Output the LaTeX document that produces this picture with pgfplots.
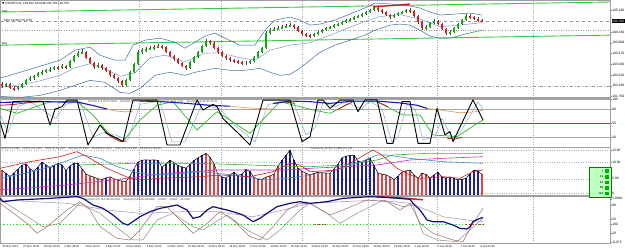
\documentclass[border=0pt]{standalone}
\usepackage{fontspec}
\setmainfont{Liberation Sans}
\newfontfamily\symfont{DejaVu Sans}
\usepackage{pgfplots}
\usepackage{pgfplotstable}
\pgfplotsset{compat=1.18}

\definecolor{cup}{RGB}{20,170,20}
\definecolor{cdn}{RGB}{225,30,30}
\definecolor{bband}{RGB}{60,110,170}
\definecolor{tgreen}{RGB}{60,200,60}
\definecolor{stblue}{RGB}{25,25,190}
\definecolor{stlight}{RGB}{130,175,205}
\definecolor{stgreen}{RGB}{40,185,40}
\definecolor{storange}{RGB}{230,150,70}
\definecolor{stred}{RGB}{205,30,30}
\definecolor{lvlred}{RGB}{190,50,50}
\definecolor{hblue}{RGB}{30,30,150}
\definecolor{hred}{RGB}{220,70,70}
\definecolor{hcyan}{RGB}{60,140,200}
\definecolor{hmag}{RGB}{200,40,200}
\definecolor{navy4}{RGB}{15,15,125}
\definecolor{brown4}{RGB}{160,110,90}
\definecolor{gray4}{RGB}{140,140,140}
\definecolor{purp4}{RGB}{175,135,195}
\definecolor{dgreen}{RGB}{40,220,40}

\pgfplotstableread{
x o c h l
2 102.24 102.16 102.32 102.08
6 102.16 102.24 102.28 102.12
10 102.24 102.08 102.28 102.04
14 102.08 102.04 102.16 101.96
18 102.04 102.12 102.16 102.00
22 102.12 102.24 102.28 102.08
26 102.24 102.40 102.44 102.20
30 102.40 102.48 102.56 102.36
34 102.48 102.56 102.60 102.40
38 102.56 102.68 102.72 102.52
42 102.68 102.72 102.80 102.60
46 102.72 102.80 102.84 102.68
50 102.80 102.84 102.92 102.72
54 102.84 102.92 102.96 102.80
58 102.92 102.88 102.96 102.80
62 102.88 102.96 103.04 102.84
66 102.96 102.92 103.00 102.84
70 102.92 103.16 103.20 102.88
74 103.16 103.36 103.40 103.12
78 103.36 103.48 103.56 103.32
82 103.48 103.52 103.64 103.44
86 103.52 103.28 103.56 103.24
90 103.28 103.08 103.32 103.04
94 103.08 102.92 103.12 102.84
98 102.92 103.00 103.08 102.88
102 103.00 102.88 103.04 102.80
106 102.88 102.76 102.92 102.72
110 102.76 102.60 102.80 102.52
114 102.60 102.48 102.64 102.44
118 102.48 102.36 102.52 102.28
122 102.36 102.20 102.40 102.12
126 102.20 102.40 102.44 102.16
130 102.40 102.72 102.76 102.36
134 102.72 103.04 103.08 102.68
138 103.04 103.52 103.60 103.00
142 103.52 103.60 103.68 103.44
146 103.60 103.64 103.72 103.52
150 103.64 103.68 103.76 103.60
154 103.68 103.72 103.80 103.60
158 103.72 103.76 103.84 103.68
162 103.76 103.72 103.80 103.64
166 103.72 103.52 103.76 103.48
170 103.52 103.36 103.56 103.32
174 103.36 103.24 103.40 103.16
178 103.24 103.08 103.28 103.04
182 103.08 102.96 103.12 102.92
186 102.96 102.88 103.00 102.80
190 102.88 103.12 103.16 102.84
194 103.12 103.32 103.36 103.08
198 103.32 103.52 103.56 103.28
202 103.52 103.76 103.80 103.48
206 103.76 103.96 104.04 103.72
210 103.96 103.88 104.00 103.80
214 103.88 103.68 103.92 103.64
218 103.68 103.52 103.72 103.44
222 103.52 103.36 103.56 103.32
226 103.36 103.28 103.40 103.20
230 103.28 103.20 103.32 103.12
234 103.20 103.16 103.24 103.08
238 103.16 103.12 103.20 103.04
242 103.12 103.08 103.16 103.00
246 103.08 103.08 103.16 103.00
250 103.08 103.16 103.20 103.04
254 103.16 103.32 103.36 103.12
258 103.32 103.52 103.56 103.28
262 103.52 103.68 103.72 103.48
266 103.68 104.28 104.36 103.64
270 104.28 104.40 104.48 104.24
274 104.40 104.44 104.52 104.36
278 104.44 104.48 104.56 104.40
282 104.48 104.52 104.60 104.44
286 104.52 104.56 104.64 104.48
290 104.56 104.60 104.68 104.52
294 104.60 104.52 104.64 104.44
298 104.52 104.36 104.56 104.32
302 104.36 104.24 104.40 104.16
306 104.24 104.20 104.28 104.12
310 104.20 104.16 104.24 104.08
314 104.16 104.24 104.28 104.12
318 104.24 104.32 104.36 104.20
322 104.32 104.40 104.44 104.28
326 104.40 104.48 104.52 104.36
330 104.48 104.52 104.56 104.44
334 104.52 104.60 104.64 104.48
338 104.60 104.64 104.68 104.56
342 104.64 104.72 104.76 104.60
346 104.72 104.80 104.84 104.68
350 104.80 104.84 104.88 104.76
354 104.84 104.92 104.96 104.80
358 104.92 104.96 105.00 104.88
362 104.96 105.04 105.08 104.92
366 105.04 105.12 105.16 105.00
370 105.12 105.20 105.24 105.08
374 105.20 105.28 105.36 105.16
378 105.28 105.20 105.32 105.12
382 105.20 105.12 105.24 105.04
386 105.12 105.00 105.16 104.96
390 105.00 104.92 105.04 104.84
394 104.92 105.00 105.04 104.88
398 105.00 105.08 105.12 104.96
402 105.08 105.12 105.16 105.04
406 105.12 105.20 105.24 105.08
410 105.20 105.16 105.28 105.08
414 105.16 104.96 105.20 104.92
418 104.96 104.72 105.00 104.64
422 104.72 104.48 104.76 104.40
426 104.48 104.52 104.60 104.40
430 104.52 104.68 104.72 104.48
434 104.68 104.76 104.84 104.64
438 104.76 104.64 104.80 104.60
442 104.64 104.44 104.68 104.40
446 104.44 104.28 104.48 104.20
450 104.28 104.32 104.40 104.20
454 104.32 104.48 104.52 104.28
458 104.48 104.64 104.68 104.44
462 104.64 104.80 104.84 104.60
466 104.80 104.96 105.04 104.76
470 104.96 104.92 105.04 104.84
474 104.92 104.84 104.96 104.80
478 104.84 104.80 104.92 104.72
482 104.80 104.76 104.84 104.72
}\candles

\pgfplotstableread{
x v r
2 7.6 1
6 6.6 0
10 5.7 0
14 6.8 0
18 7.9 0
22 9.0 0
26 9.5 0
30 8.0 0
34 7.3 0
38 8.6 0
42 10.0 0
46 9.2 0
50 8.2 0
54 9.0 0
58 9.6 0
62 9.2 0
66 7.5 0
70 8.8 0
74 9.7 0
78 9.6 0
82 8.0 1
86 6.4 1
90 5.9 1
94 5.5 1
98 5.0 1
102 4.8 1
106 5.3 0
110 5.6 1
114 5.0 1
118 4.6 1
122 4.3 1
126 4.2 1
130 5.9 1
134 8.0 0
138 10.0 0
142 10.6 0
146 10.7 0
150 10.6 0
154 10.7 0
158 10.5 0
162 8.5 0
166 9.4 0
170 10.6 0
174 9.8 0
178 9.0 0
182 8.6 0
186 8.2 0
190 9.3 0
194 10.5 0
198 11.3 0
202 12.0 0
206 12.6 1
210 11.5 1
214 9.5 1
218 6.2 1
222 5.6 0
226 5.2 0
230 6.2 0
234 7.0 0
238 6.0 0
242 6.5 0
246 7.8 0
250 7.2 0
254 5.4 1
258 4.9 1
262 4.8 1
266 5.5 1
270 5.9 1
274 6.4 1
278 8.8 1
282 10.5 0
286 12.0 0
290 13.6 0
294 10.5 0
298 8.2 0
302 7.3 1
306 6.7 1
310 6.2 1
314 6.6 1
318 7.0 1
322 6.9 1
326 6.7 1
330 6.7 1
334 8.0 0
338 9.4 0
342 11.3 0
346 11.8 0
350 12.0 0
354 12.1 0
358 10.4 0
362 9.8 0
366 10.6 0
370 11.1 0
374 9.0 0
378 6.7 1
382 6.4 1
386 6.2 1
390 5.6 1
394 4.8 1
398 5.8 0
402 7.0 1
406 7.4 1
410 7.6 1
414 6.2 1
418 5.2 1
422 6.7 1
426 6.3 1
430 5.2 0
434 6.2 0
438 7.0 0
442 5.4 0
446 5.3 0
450 5.6 0
454 5.1 0
458 4.7 0
462 4.9 0
466 5.1 0
470 6.5 0
474 7.6 0
478 7.4 0
482 6.3 1
}\hist

\pgfplotsset{
  panel/.style={
    scale only axis, width=610pt, xmin=0, xmax=610,
    axis line style={draw=gray!75, line width=0.8pt},
    xtick={58,139,221,302,368,437,533}, xticklabels={},
    xmajorgrids, major x grid style={draw=gray!70, dotted, line width=0.45pt},
    xtick style={draw=none},
    ytick pos=right, yticklabel pos=right, tick align=outside,
    major tick length=1.5pt,
    ytick style={draw=gray, line width=0.3pt},
    yticklabel style={font=\fontsize{3.3}{3.3}\selectfont, inner sep=0.6pt, text=black},
    /pgf/number format/assume math mode=true,
    clip=true,
  },
  cl/.style={mark=none, line join=round},
}

\begin{document}
\begin{tikzpicture}
\useasboundingbox (0pt,0pt) rectangle (625pt,-251pt);
\fill[white] (0pt,0pt) rectangle (625pt,-251pt);

% ---------------- Panel 1: price ----------------
\begin{axis}[panel, at={(0pt,-0.5pt)}, anchor=north west, height=97pt,
  ymin=101.70, ymax=105.58,
  ytick={101.75,102.18,102.61,103.04,103.47,103.90,104.33,105.19},
  yticklabel style={/pgf/number format/.cd, fixed, fixed zerofill, precision=3}]
\addplot[cl, gray!80, dashed, line width=0.4pt] coordinates {(0,104.76) (610,104.76)};
\addplot[cl, gray!80, dotted, line width=0.45pt] coordinates {(0,104.40) (610,104.40)};
\addplot[cl, gray!80, dash dot, line width=0.4pt] coordinates {(0,102.16) (610,102.16)};
\addplot[cl, tgreen, line width=0.9pt] coordinates {(0,105.12) (610,105.52)};
\addplot[cl, tgreen, line width=0.9pt] coordinates {(0,103.80) (610,104.20)};
\addplot[cl, stred, line width=1.3pt] coordinates {(373,105.32) (410,105.44)};
\addplot[cl, bband, line width=0.5pt] coordinates {(0,102.48) (20,102.72) (40,102.96) (60,103.20) (75,103.60) (90,103.72) (100,103.40) (115,103.20) (125,103.20) (133,103.80) (145,104.00) (160,104.08) (175,103.92) (185,103.68) (195,103.92) (205,104.16) (215,104.28) (225,104.08) (240,103.80) (255,103.80) (265,104.40) (275,104.80) (290,104.92) (300,104.80) (310,104.60) (320,104.64) (335,104.80) (350,105.04) (365,105.28) (375,105.48) (390,105.44) (400,105.40) (410,105.36) (420,105.28) (430,105.12) (440,105.00) (455,105.04) (470,105.08) (482,105.00)};
\addplot[cl, bband, line width=0.5pt] coordinates {(0,101.76) (20,101.72) (40,101.80) (60,102.00) (75,102.20) (90,102.40) (105,102.32) (120,101.92) (130,101.88) (140,102.08) (155,102.60) (170,102.72) (185,102.60) (195,102.72) (205,102.80) (215,102.88) (230,102.80) (245,102.80) (260,102.88) (270,102.72) (280,102.60) (290,102.64) (300,102.88) (310,103.20) (320,103.52) (335,103.80) (350,104.00) (365,104.20) (375,104.40) (390,104.60) (400,104.64) (410,104.60) (420,104.40) (430,104.16) (440,104.08) (450,104.08) (465,104.24) (482,104.40)};
\addplot[cl, bband!80, line width=0.4pt] coordinates {(0,102.12) (20,102.22) (40,102.38) (60,102.60) (75,102.90) (90,103.06) (105,102.86) (120,102.56) (135,102.70) (150,103.30) (165,103.40) (185,103.14) (205,103.48) (220,103.50) (240,103.30) (255,103.20) (270,103.60) (290,103.80) (310,103.90) (330,104.20) (350,104.52) (365,104.74) (380,104.94) (400,105.02) (420,104.84) (440,104.54) (460,104.60) (482,104.70)};
\addplot[draw=none, mark=none, error bars/.cd, y dir=both, y explicit, error mark=none,
  error bar style={draw=black!75, solid, line width=0.45pt}]
  table[x=x, y expr={(\thisrow{h}+\thisrow{l})/2}, y error expr={(\thisrow{h}-\thisrow{l})/2}] {\candles};
\addplot[draw=none, mark=none, restrict expr to domain={\thisrow{c}-\thisrow{o}}{0:10},
  error bars/.cd, y dir=both, y explicit, error mark=none,
  error bar style={draw=cup, solid, line width=2.4pt}]
  table[x=x, y expr={(\thisrow{o}+\thisrow{c})/2}, y error expr={abs(\thisrow{c}-\thisrow{o})/2}] {\candles};
\addplot[draw=none, mark=none, restrict expr to domain={\thisrow{c}-\thisrow{o}}{-10:-0.001},
  error bars/.cd, y dir=both, y explicit, error mark=none,
  error bar style={draw=cdn, solid, line width=2.4pt}]
  table[x=x, y expr={(\thisrow{o}+\thisrow{c})/2}, y error expr={abs(\thisrow{c}-\thisrow{o})/2}] {\candles};
\end{axis}

% ---------------- Panel 2: stochastics ----------------
\begin{axis}[panel, at={(0pt,-98pt)}, anchor=north west, height=49pt,
  ymin=-0.85, ymax=103.5, ytick={20,50,80,100}]
\addplot[cl, gray!70, line width=0.5pt] coordinates {(0,100) (610,100)};
\addplot[cl, gray!70, line width=0.5pt] coordinates {(0,80) (610,80)};
\addplot[cl, lvlred, line width=0.6pt] coordinates {(0,50) (610,50)};
\addplot[cl, gray!70, line width=0.5pt] coordinates {(0,20) (610,20)};
\addplot[cl, stlight, line width=0.5pt] coordinates {(0,70) (8,30) (18,85) (30,96) (48,70) (56,60) (66,90) (80,97) (93,20) (104,30) (115,25) (128,15) (140,90) (160,97) (172,10) (185,10) (202,90) (220,80) (235,45) (255,10) (268,90) (293,97) (306,25) (315,40) (323,95) (335,85) (345,95) (362,80) (370,97) (382,80) (392,10) (398,20) (407,90) (415,80) (423,15) (435,20) (442,60) (452,20) (460,30) (478,95) (483,80)};
\addplot[cl, stgreen, line width=0.7pt] coordinates {(0,81.5) (17,70.9) (50,95.7) (77,95.7) (93,67.4) (110,24.8) (123,10.6) (140,56.7) (157,88) (173,95.7) (197,35.5) (217,74.4) (250,28.4) (280,95.7) (313,78) (330,70.9) (353,95.7) (377,95.7) (403,67.4) (420,67.4) (433,24.8) (457,21.3) (480,53) (483,56.7)};
\addplot[cl, stred, line width=0.8pt] coordinates {(0,88) (15,90) (30,94) (45,96)};
\addplot[cl, stred, line width=0.8pt] coordinates {(105,30) (112,20) (120,11) (127,12)};
\addplot[cl, stred, line width=0.8pt] coordinates {(275,92) (285,95) (295,92)};
\addplot[cl, stred, line width=0.8pt] coordinates {(337,78) (345,88) (352,94)};
\addplot[cl, stred, line width=0.8pt] coordinates {(377,95) (383,90) (388,85)};
\addplot[cl, stred, line width=0.8pt] coordinates {(447,18) (455,16) (462,20)};
\addplot[cl, storange, line width=0.6pt] coordinates {(107,80) (115,76) (125,74) (133,75)};
\addplot[cl, storange, line width=0.6pt] coordinates {(230,86) (250,82) (273,80)};
\addplot[cl, storange, line width=0.6pt] coordinates {(427,81.5) (440,78) (460,72) (475,74) (483,78)};
\addplot[cl, stblue, line width=1.1pt] coordinates {(0,94) (20,95) (40,96) (60,95) (77,95) (92,88) (107,80)};
\addplot[cl, stblue, line width=1.1pt] coordinates {(140,97) (160,96) (187,92) (210,88) (230,86)};
\addplot[cl, stblue, line width=1.1pt] coordinates {(273,92) (290,97) (310,95.7) (330,92) (353,97) (377,97) (400,93) (417,88) (427,81.5)};
\addplot[cl, black, line width=0.9pt] coordinates {(0,53) (5,17.7) (13,95.7) (25,97) (43,96) (50,46) (55,80) (62,85) (67,99) (77,99) (88,3.5) (100,46) (107,28) (117,17.7) (123,10.6) (133,99) (157,99) (167,3.5) (180,3.5) (197,99) (203,78) (213,90) (217,85) (223,60) (233,39) (240,25) (250,3.5) (263,99) (290,99) (302,10.6) (310,21) (318,99) (323,99) (330,81.5) (340,99) (353,99) (358,74.4) (365,99.5) (377,99.5) (387,7) (393,7) (402,95.7) (410,95.7) (418,7) (430,7) (437,81.5) (445,25) (450,32) (453,10.6) (473,99.5) (483,56.7)};
\end{axis}

% ---------------- Panel 3: histogram ----------------
\begin{axis}[panel, at={(0pt,-147pt)}, anchor=north west, height=48.5pt,
  ymin=0, ymax=14.55, ytick={0.6,5,10,13.6}, yticklabels={0,5.00,10.00,13.60},
  ymajorgrids, major y grid style={draw=gray!60, dotted, line width=0.4pt}]
\addplot[ycomb, hblue, line width=1.3pt, mark=none, restrict expr to domain={\thisrow{r}}{-0.5:0.5}] table[x=x, y=v] {\hist};
\addplot[ycomb, hred, line width=1.3pt, mark=none, restrict expr to domain={\thisrow{r}}{0.5:1.5}] table[x=x, y=v] {\hist};
\addplot[cl, black, line width=0.5pt] table[x=x, y=v] {\hist};
\addplot[cl, hmag, line width=0.6pt] coordinates {(0,1.65) (67,3.15) (127,5.15) (167,6.65) (217,7.65) (283,7.65) (310,8.15) (377,9.15) (410,10.65) (443,11.15) (483,11.65)};
\addplot[cl, stgreen, line width=0.6pt] coordinates {(77,9.15) (133,9.65) (200,9.65) (250,9.15) (300,8.65) (310,8.65) (343,9.15) (377,10.65) (393,12.15) (427,12.65) (483,12.65)};
\addplot[cl, hcyan, line width=0.6pt] coordinates {(0,5.15) (33,7.15) (60,9.65) (83,12.15) (100,11.15) (117,8.65) (140,6.65) (167,6.15) (200,7.15) (233,6.15) (267,4.65) (300,5.65) (310,6.15) (343,8.15) (357,9.65) (377,12.15) (387,12.15) (410,11.15) (443,10.15) (483,9.65)};
\addplot[cl, stred, line width=0.6pt] coordinates {(0,8.15) (30,10.15) (60,11.65) (77,13.15) (90,11.15) (107,8.15) (130,5.15) (140,4.65) (160,5.15) (200,5.65) (220,6.15) (250,5.65) (273,7.15) (290,9.65) (300,9.15) (310,7.15) (337,7.65) (353,10.15) (367,12.65) (373,13.65) (382,12.15) (397,8.15) (410,6.15) (420,5.15) (443,5.65) (460,5.15) (473,7.15) (483,7.65)};
\end{axis}

% ---------------- Panel 4 ----------------
\begin{axis}[panel, at={(0pt,-196pt)}, anchor=north west, height=47pt,
  ymin=0, ymax=100, ytick={2,20,40,50,80,94}, yticklabels={-0.075,20,100,50,80,1.0340},
  extra x ticks={2,22.6,43.2,63.8,84.4,105,125.6,146.2,166.8,187.4,208,228.6,249.2,269.8,290.4,311,331.6,352.2,372.8,393.4,414,437,460,480},
  extra x tick labels={26 Nov 2013,27 Nov 16:00,29 Nov 00:00,2 Dec 08:00,3 Dec 16:00,4 Dec 20:00,6 Dec 04:00,9 Dec 12:00,10 Dec 16:00,12 Dec 00:00,13 Dec 08:00,16 Dec 16:00,17 Dec 20:00,19 Dec 04:00,20 Dec 12:00,23 Dec 16:00,24 Dec 20:00,27 Dec 04:00,30 Dec 08:00,31 Dec 16:00,2 Jan 20:00,6 Jan 04:00,7 Jan 08:00,8 Jan 16:00},
  extra x tick style={grid=none, xticklabel style={anchor=north west, inner sep=0.5pt, font=\fontsize{2.7}{2.7}\selectfont, yshift=-0.6pt}}]
\addplot[cl, dgreen, dotted, line width=1.3pt] coordinates {(0,40) (485,40)};
\addplot[cl, stred, dotted, line width=1.3pt] coordinates {(315,40) (328,40)};
\addplot[cl, stred, dotted, line width=1.3pt] coordinates {(466,40) (485,40)};
\addplot[cl, purp4, line width=0.5pt] coordinates {(0,91.5) (67,84.4) (107,70.2) (140,63.1) (183,66.6) (217,66.6) (253,56) (283,70.2) (310,84.4) (377,91.5) (410,84.4) (427,70.2) (443,56) (467,48.9) (483,45.4)};
\addplot[cl, gray4, line width=0.5pt] coordinates {(0,91.5) (17,70.2) (43,34.7) (60,41.8) (80,84.4) (100,63.1) (120,27.7) (133,6.4) (143,6.4) (157,48.9) (173,63.1) (193,34.7) (203,27.7) (227,59.6) (247,27.7) (267,6.4) (280,27.7) (300,70.2) (310,84.4) (327,63.1) (340,41.8) (357,63.1) (383,91.5) (403,77.3) (413,80.8) (423,20.6) (437,6.4) (457,2.8) (470,27.7) (483,52.5)};
\addplot[cl, brown4, line width=0.5pt] coordinates {(0,84.4) (27,41.8) (37,20.6) (47,34.7) (67,70.2) (80,87.9) (90,70.2) (100,34.7) (117,9.9) (130,6.4) (140,27.7) (157,77.3) (167,77.3) (183,41.8) (193,20.6) (207,41.8) (220,66.6) (233,48.9) (250,13.5) (260,6.4) (273,34.7) (287,70.2) (300,84.4) (310,84.4) (330,59.6) (343,70.2) (367,91.5) (387,87.9) (400,70.2) (410,84.4) (420,41.8) (433,20.6) (453,6.4) (463,2.8) (473,41.8) (483,73.7)};
\addplot[cl, stred, line width=1.5pt] coordinates {(377,98.6) (400,96) (423,92)};
\addplot[cl, navy4, line width=1.2pt] coordinates {(0,95) (3,87.9) (17,91.5) (50,95) (77,98.6) (83,95) (93,80.8) (103,73.7) (113,59.6) (123,41.8) (128,38.3) (140,56) (150,66.6) (160,73.7) (177,80.8) (187,70.2) (193,52.5) (200,56) (207,70.2) (213,77.3) (220,73.7) (227,70.2) (233,66.6) (243,59.6) (253,45.4) (260,52.5) (267,63.1) (277,77.3) (290,84.4) (300,87.9) (310,84.4) (327,87.9) (343,95) (370,98.6) (387,97) (410,93) (413,84.4) (420,70.2) (427,48.9) (433,45.4) (443,45.4) (453,38.3) (460,31.2) (467,29.8) (470,34.7) (473,45.4) (480,52.5) (483,54)};
\end{axis}

% ---------------- texts ----------------
\node[anchor=west, inner sep=0pt, font=\fontsize{3}{3}\selectfont] at (2pt,-3.5pt) {{\symfont\fontsize{3}{3}\selectfont ▼} USDJPY,H4\ \ 104.812 104.848 104.709 104.758};
\node[anchor=west, inner sep=0pt, font=\fontsize{3}{3}\selectfont] at (2pt,-11pt) {Sell};
\node[anchor=west, inner sep=0pt, font=\fontsize{3}{3}\selectfont] at (2pt,-21pt) {\_ADX 2X(30),Hrs 2.56};
\node[anchor=west, inner sep=0pt, font=\fontsize{3}{3}\selectfont] at (2pt,-44pt) {Buy};
\node[anchor=west, inner sep=0.5pt, fill=black, text=white, font=\fontsize{3.3}{3.3}\selectfont] at (611.5pt,-21pt) {104.760};
\node[anchor=west, inner sep=0pt, text=black!80, font=\fontsize{2.6}{2.6}\selectfont] at (88pt,-101.5pt) {Stoch(5,3,3) 20.47 99.38 \quad Stoch(21,5,5) 90.24 91.07 \quad Stoch(42,7,7) 78.85 76.51 \quad Stoch(89,9,9) 82.55 76.26};
\node[anchor=west, inner sep=0pt, text=black!80, font=\fontsize{2.6}{2.6}\selectfont] at (1pt,-149pt) {ADX(2) 21.2594 \quad ADX(7) 20.3156 \quad ADX(21) 25.1047 \quad ADX(42) 25.8440 \quad ADX(89) 21.5841 \quad ADX(144) 19.2348 \quad ADX(233) 18.0061};
\node[anchor=west, inner sep=0pt, text=black!80, font=\fontsize{2.6}{2.6}\selectfont] at (311pt,-149pt) {Directional\_ADX(7) 0.6938 23.7134};
\node[anchor=west, inner sep=0pt, text=black!80, font=\fontsize{2.6}{2.6}\selectfont] at (84pt,-200pt) {Stoch(21,3,3) 75.2750 46.3750 \quad Stoch(42) 83.2550 48.8300 \quad 0.0000 \quad 0.0000 \quad 45.3750};
\draw[fill=green!25, draw=green!50!black, line width=0.3pt] (589pt,-167pt) rectangle (611pt,-197pt);
\foreach \t [count=\i] in {7,21,42,89,144} {
  \node[anchor=east, inner sep=0pt, font=\fontsize{3}{3}\selectfont] at (603.5pt,{-165.5pt-\i*5.6pt}) {\t};
  \fill[green!70!black] (604.5pt,{-163.8pt-\i*5.6pt}) rectangle (608.5pt,{-167.4pt-\i*5.6pt});
}
\end{tikzpicture}
\end{document}
